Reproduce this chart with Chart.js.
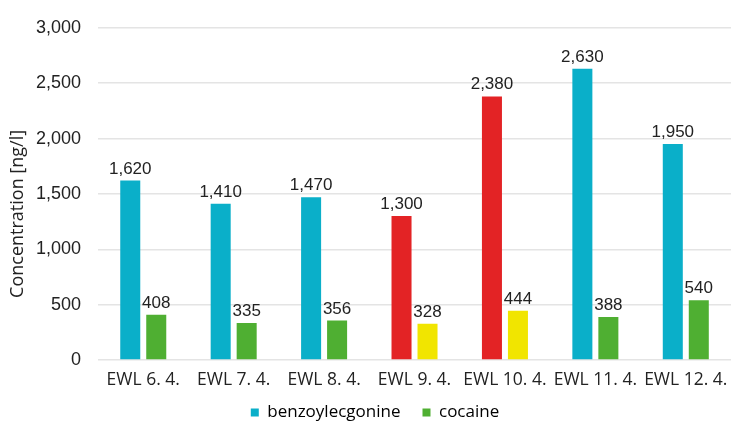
<!DOCTYPE html>
<html>
<head>
<meta charset="utf-8">
<script src="https://cdn.jsdelivr.net/npm/chart.js@4/dist/chart.umd.min.js"></script>
<style>
  html, body { margin: 0; padding: 0; background: #ffffff; }
  #wrap { width: 731px; height: 424px; }
</style>
</head>
<body>
<div id="wrap"><canvas id="c" width="731" height="424"></canvas></div>
<script>
// Sampling days
const categories = ['EWL 6. 4.', 'EWL 7. 4.', 'EWL 8. 4.', 'EWL 9. 4.', 'EWL 10. 4.', 'EWL 11. 4.', 'EWL 12. 4.'];
// Concentrations in ng/l
const benzoylecgonine = [1620, 1410, 1470, 1300, 2380, 2630, 1950];
const cocaine = [408, 335, 356, 328, 444, 388, 540];
// Days flagged with highlight colours
const highlighted = [false, false, false, true, true, false, false];
const yTicks = [0, 500, 1000, 1500, 2000, 2500, 3000];
const yTitle = 'Concentration [ng/l]';

const BE_COLOR = '#0AAFC9';
const COC_COLOR = '#4FAF32';
const BE_HI = '#E32325';
const COC_HI = '#F1E500';

const LABEL_FONT = '"Open Sans", "Noto Sans", sans-serif';
const NUM_FONT = '"Liberation Sans", Arial, sans-serif';

const fmt = v => v.toLocaleString('en-US');

// Writes each bar's value just above it
const valueLabels = {
  id: 'valueLabels',
  afterDatasetsDraw(chart) {
    const ctx = chart.ctx;
    ctx.save();
    ctx.font = '17px ' + NUM_FONT;
    ctx.fillStyle = '#222222';
    ctx.textAlign = 'center';
    ctx.textBaseline = 'alphabetic';
    chart.data.datasets.forEach((ds, i) => {
      const meta = chart.getDatasetMeta(i);
      meta.data.forEach((bar, j) => {
        ctx.fillText(fmt(ds.data[j]), bar.x, bar.y - 7);
      });
    });
    ctx.restore();
  }
};

// Rotated value-axis caption, sitting a little below the axis middle
const axisCaption = {
  id: 'axisCaption',
  afterDraw(chart) {
    const { ctx, chartArea } = chart;
    ctx.save();
    ctx.translate(18, (chartArea.top + chartArea.bottom) / 2 + 20);
    ctx.rotate(-Math.PI / 2);
    ctx.font = '18px ' + LABEL_FONT;
    ctx.fillStyle = '#222222';
    ctx.textAlign = 'center';
    ctx.textBaseline = 'middle';
    ctx.fillText(yTitle, 0, 0);
    ctx.restore();
  }
};

new Chart(document.getElementById('c'), {
  type: 'bar',
  data: {
    labels: categories,
    datasets: [
      {
        label: 'benzoylecgonine',
        data: benzoylecgonine,
        backgroundColor: highlighted.map(h => h ? BE_HI : BE_COLOR),
        legendColor: BE_COLOR
      },
      {
        label: 'cocaine',
        data: cocaine,
        backgroundColor: highlighted.map(h => h ? COC_HI : COC_COLOR),
        legendColor: COC_COLOR
      }
    ]
  },
  options: {
    responsive: false,
    animation: false,
    devicePixelRatio: 1,
    layout: { padding: { top: 7, right: 0, left: 19, bottom: -7 } },
    datasets: {
      bar: { categoryPercentage: 0.575, barPercentage: 0.77 }
    },
    scales: {
      x: {
        grid: { display: false, drawTicks: true, tickLength: 10 },
        border: { display: false },
        ticks: {
          color: '#222222',
          font: { family: LABEL_FONT, size: 17.5 },
          padding: 0,
          maxRotation: 0,
          autoSkip: false
        },
        afterFit(axis) {
          // tight axis box; labels may spill into the legend's top margin
          axis.height = 22;
          axis._computeLabelArea = () => undefined;
        }
      },
      y: {
        min: 0,
        max: 3000,
        afterBuildTicks(axis) { axis.ticks = yTicks.map(v => ({ value: v })); },
        grid: { color: '#e4e4e4', lineWidth: 1.5, drawTicks: false },
        border: { display: false },
        ticks: {
          color: '#222222',
          font: { family: NUM_FONT, size: 18 },
          padding: 17,
          callback: v => fmt(v)
        }
      }
    },
    plugins: {
      legend: {
        position: 'bottom',
        labels: {
          color: '#222222',
          font: { family: LABEL_FONT, size: 17 },
          boxWidth: 8,
          boxHeight: 8,
          padding: 22,
          generateLabels(chart) {
            return chart.data.datasets.map((ds, i) => ({
              text: ds.label,
              fillStyle: ds.legendColor,
              strokeStyle: ds.legendColor,
              lineWidth: 0,
              hidden: false,
              datasetIndex: i
            }));
          }
        }
      },
      tooltip: { enabled: false }
    }
  },
  plugins: [valueLabels, axisCaption]
});
</script>
</body>
</html>
